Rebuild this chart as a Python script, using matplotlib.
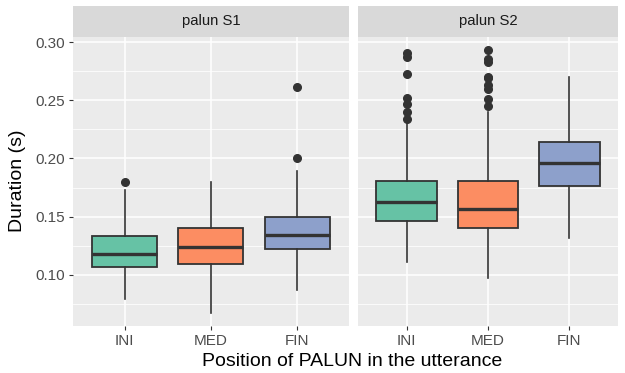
import matplotlib
matplotlib.use("Agg")
import matplotlib.pyplot as plt
from matplotlib.ticker import MultipleLocator

plt.rcParams['font.family'] = ['Liberation Sans', 'DejaVu Sans']

# --- datos ---
positions = ["INI", "MED", "FIN"]
speakers = ["palun S1", "palun S2"]
colors = ["#66C2A5", "#FC8D62", "#8DA0CB"]

# (whislo, q1, med, q3, whishi) por posición
s1_stats = [
    (0.0791, 0.1066, 0.1178, 0.1337, 0.1730),
    (0.0676, 0.1094, 0.1243, 0.1403, 0.1800),
    (0.0871, 0.1223, 0.1346, 0.1500, 0.1890),
]
s1_fliers = [
    [0.180],
    [],
    [0.2004, 0.2614],
]
s2_stats = [
    (0.1109, 0.1464, 0.1624, 0.1807, 0.2296),
    (0.0972, 0.1403, 0.1564, 0.1807, 0.2397),
    (0.1320, 0.1767, 0.1959, 0.2144, 0.2702),
]
s2_fliers = [
    [0.2336, 0.2397, 0.2468, 0.2519, 0.2728, 0.2874, 0.2903],
    [0.2448, 0.2514, 0.2599, 0.2628, 0.2688, 0.2702, 0.2826, 0.2854, 0.2931],
    [],
]

W, H = 625, 373
fig = plt.figure(figsize=(W / 100, H / 100), dpi=100)

panels = [(72.7, 349.0), (358.0, 618.0)]
top, bottom, strip_top = 37.0, 326.0, 6.0
dark = "#333333"

for k, (x0, x1) in enumerate(panels):
    ax = fig.add_axes([x0 / W, 1 - bottom / H, (x1 - x0) / W, (bottom - top) / H])
    stats = s1_stats if k == 0 else s2_stats
    fliers = s1_fliers if k == 0 else s2_fliers
    bxp = []
    for (lo, q1, med, q3, hi), fl in zip(stats, fliers):
        bxp.append(dict(whislo=lo, q1=q1, med=med, q3=q3, whishi=hi, fliers=fl))
    res = ax.bxp(bxp, positions=[1, 2, 3], widths=0.75, patch_artist=True,
                 showcaps=False,
                 boxprops=dict(edgecolor=dark, linewidth=1.3),
                 whiskerprops=dict(color=dark, linewidth=1.2),
                 medianprops=dict(color=dark, linewidth=2.4, solid_capstyle='butt'),
                 flierprops=dict(marker='o', markerfacecolor=dark, markeredgecolor=dark,
                                 markersize=5.5))
    for patch, c in zip(res['boxes'], colors):
        patch.set_facecolor(c)
    for art in res['whiskers'] + res['medians'] + res['fliers'] + res['boxes']:
        art.set_zorder(3)

    ax.set_xlim(0.4, 3.6)
    ax.set_ylim(0.0562, 0.3043)
    ax.set_facecolor("#EBEBEB")
    ax.yaxis.set_major_locator(MultipleLocator(0.05))
    ax.yaxis.set_minor_locator(MultipleLocator(0.025))
    ax.set_xticks([1, 2, 3])
    ax.set_xticklabels(positions)
    ax.grid(which='major', color='white', linewidth=1.1)
    ax.grid(which='minor', axis='y', color='white', linewidth=0.55)
    ax.set_axisbelow(True)
    for sp in ax.spines.values():
        sp.set_visible(False)
    ax.tick_params(axis='both', which='major', length=3, width=0.8, color=dark,
                   labelcolor='#4D4D4D', labelsize=11, pad=2.5)
    ax.tick_params(axis='y', which='minor', length=0)
    if k == 0:
        ax.set_yticklabels(["%.2f" % v for v in ax.get_yticks()])
    else:
        ax.tick_params(axis='y', which='major', length=0, labelleft=False)

    # franja del facet
    sax = fig.add_axes([x0 / W, 1 - top / H, (x1 - x0) / W, (top - strip_top) / H])
    sax.set_facecolor("#D9D9D9")
    sax.set_xticks([])
    sax.set_yticks([])
    for sp in sax.spines.values():
        sp.set_visible(False)
    sax.text(0.5, 0.5, speakers[k], ha='center', va='center', fontsize=10.7,
             color='#1A1A1A', transform=sax.transAxes)

fig.text(352 / W, 1 - 362 / H, "Position of PALUN in the utterance", ha='center',
         va='center', fontsize=14, color='black')
fig.text(18 / W, 1 - 181 / H, "Duration (s)", ha='center', va='center',
         rotation=90, fontsize=14, color='black')

fig.savefig("out.png", dpi=100)
